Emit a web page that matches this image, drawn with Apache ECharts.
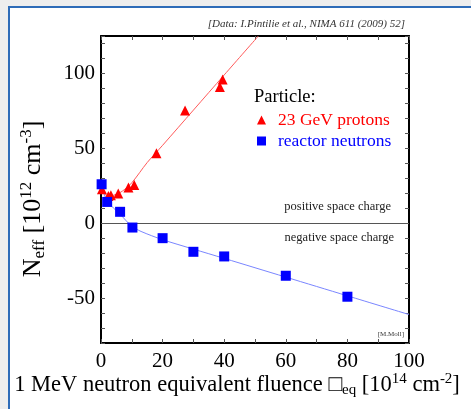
<!DOCTYPE html>
<html><head><meta charset="utf-8">
<script src="https://cdn.jsdelivr.net/npm/echarts@6/dist/echarts.min.js"></script>
<style>html,body{margin:0;padding:0;background:#eeeeee}#c{width:471px;height:409px}</style>
</head><body><div id="c"></div>
<script>
// Data
const protonFluence = [0.3, 2.4, 3.2, 5.6, 8.9, 10.8, 18, 27.3, 38.6, 39.5];
const protonNeff    = [22.7, 18.2, 18.7, 19.8, 23.8, 25.5, 46.7, 75.3, 91, 96];
const neutronFluence = [0.2, 2, 6.2, 10.2, 20, 30, 40, 60, 80];
const neutronNeff    = [26, 14.2, 7.6, -2.9, -10, -19.1, -22.2, -35.1, -49.1];
// fit curves
const protonFitX = [0, 1.5, 3, 5, 7, 10, 15, 20, 30, 40, 51.1];
const protonFitY = [22, 19, 18.3, 19.3, 21.5, 27, 40.5, 52, 75.5, 99, 125];
const neutronFitX = [0, 1, 2, 4, 6, 8, 10, 13, 20, 30, 40, 60, 80, 100];
const neutronFitY = [26, 19.5, 14.8, 10.2, 6.5, 2, -2, -5.5, -11, -17.3, -23.5, -36, -48.5, -61];
const xTicks = [0, 20, 40, 60, 80, 100];
const yTicks = [-50, 0, 50, 100];

const zip = (a, b) => a.map((v, i) => [v, b[i]]);
const serif = '"Liberation Serif", "DejaVu Serif", serif';
const chart = echarts.init(document.getElementById('c'), null, {renderer: 'canvas'});

const tickStyle = {show: true, inside: true, length: 4, lineStyle: {color: '#555', width: 1}};
const axisLineStyle = {show: true, onZero: false, lineStyle: {color: '#000', width: 2}};

chart.setOption({
  animation: false,
  backgroundColor: '#eeeeee',
  grid: {left: 101, right: 62, top: 36, bottom: 66, containLabel: false},
  xAxis: [
    {type: 'value', position: 'bottom', min: 0, max: 100, interval: 10,
     axisLine: axisLineStyle, axisTick: tickStyle, splitLine: {show: false},
     axisLabel: {margin: 8, color: '#000', fontFamily: serif, fontSize: 21,
       formatter: v => xTicks.includes(v) ? String(v) : ''}},
    {type: 'value', position: 'top', min: 0, max: 100, interval: 10,
     axisLine: axisLineStyle, axisTick: tickStyle, splitLine: {show: false},
     axisLabel: {show: false}}
  ],
  yAxis: [
    {type: 'value', position: 'left', min: -80, max: 125, interval: 10,
     axisLine: axisLineStyle, axisTick: tickStyle, splitLine: {show: false},
     axisLabel: {margin: 6, color: '#000', fontFamily: serif, fontSize: 21,
       formatter: v => yTicks.includes(v) ? String(v) : ''}},
    {type: 'value', position: 'right', min: -80, max: 125, interval: 10,
     axisLine: axisLineStyle, axisTick: tickStyle, splitLine: {show: false},
     axisLabel: {show: false}}
  ],
  legend: {
    orient: 'vertical', left: 252, top: 106, itemGap: 3,
    itemWidth: 9, itemHeight: 9,
    textStyle: {fontFamily: serif, fontSize: 17.5, padding: [0, 0, 0, 7]},
    data: [
      {name: '23 GeV protons', icon: 'triangle', itemStyle: {opacity: 1}, textStyle: {color: '#ff0000'}},
      {name: 'reactor neutrons', icon: 'rect', itemStyle: {opacity: 1}, textStyle: {color: '#0000ff'}}
    ]
  },
  series: [
    {name: 'proton fit', type: 'line', data: zip(protonFitX, protonFitY), smooth: 0.3,
     showSymbol: false, symbol: 'none', lineStyle: {color: '#ff5a5a', width: 1}, z: 2, silent: true},
    {name: 'neutron fit', type: 'line', data: zip(neutronFitX, neutronFitY), smooth: 0.3,
     showSymbol: false, symbol: 'none', lineStyle: {color: '#7a86ff', width: 1}, z: 2, silent: true,
     markLine: {silent: true, symbol: 'none', label: {show: false},
       lineStyle: {color: '#555', width: 1, type: 'solid'}, data: [{yAxis: 0}]}},
    {name: '23 GeV protons', type: 'scatter', data: zip(protonFluence, protonNeff),
     symbol: 'triangle', symbolSize: 10, itemStyle: {color: '#ff0000', opacity: 1}, z: 5},
    {name: 'reactor neutrons', type: 'scatter', data: zip(neutronFluence, neutronNeff),
     symbol: 'rect', symbolSize: 10, itemStyle: {color: '#0000ff', opacity: 1}, z: 5}
  ],
  graphic: [
    {type: 'rect', z: -10, silent: true, shape: {x: 9, y: 7, width: 462, height: 402}, style: {fill: '#ffffff'}},
    {type: 'polyline', z: -9, silent: true, shape: {points: [[9, 409], [9, 7], [471, 7]]},
     style: {stroke: '#2e6cb8', lineWidth: 2, fill: null}},
    {type: 'text', x: 405, y: 24, style: {text: '[Data: I.Pintilie et al., NIMA 611 (2009) 52]',
      font: 'italic 11px ' + serif, fill: '#333', align: 'right', verticalAlign: 'middle'}},
    {type: 'text', x: 254, y: 97, style: {text: 'Particle:', font: '18.5px ' + serif, fill: '#000',
      align: 'left', verticalAlign: 'middle'}},
    {type: 'text', x: 391, y: 207, style: {text: 'positive space charge', font: '12.5px ' + serif,
      fill: '#222', align: 'right', verticalAlign: 'middle'}},
    {type: 'text', x: 394, y: 238, style: {text: 'negative space charge', font: '12.5px ' + serif,
      fill: '#222', align: 'right', verticalAlign: 'middle'}},
    {type: 'text', x: 404, y: 334, style: {text: '[M.Moll]', font: '7px ' + serif,
      fill: '#333', align: 'right', verticalAlign: 'middle'}},
    {type: 'text', x: 33, y: 199, rotation: Math.PI / 2,
     style: {text: '{m|N}{sub|eff}{m| [10}{sup|12}{m| cm}{sup|-3}{m|]}', align: 'center', verticalAlign: 'middle',
       rich: {
         m: {fontFamily: serif, fontSize: 26, lineHeight: 30, fill: '#000', verticalAlign: 'middle'},
         sub: {fontFamily: serif, fontSize: 17, lineHeight: 16, fill: '#000', verticalAlign: 'bottom'},
         sup: {fontFamily: serif, fontSize: 17, lineHeight: 16, fill: '#000', verticalAlign: 'top'}
       }}},
    {type: 'text', x: 237, y: 385,
     style: {text: '{m|1 MeV neutron equivalent fluence \u25A1}{sub|eq}{m| [10}{sup|14}{m| cm}{sup|-2}{m|]}',
       align: 'center', verticalAlign: 'middle',
       rich: {
         m: {fontFamily: serif, fontSize: 22.5, lineHeight: 26, fill: '#000', verticalAlign: 'middle'},
         sub: {fontFamily: serif, fontSize: 15, lineHeight: 14, fill: '#000', verticalAlign: 'bottom'},
         sup: {fontFamily: serif, fontSize: 15, lineHeight: 14, fill: '#000', verticalAlign: 'top'}
       }}}
  ]
});
</script>
</body></html>
